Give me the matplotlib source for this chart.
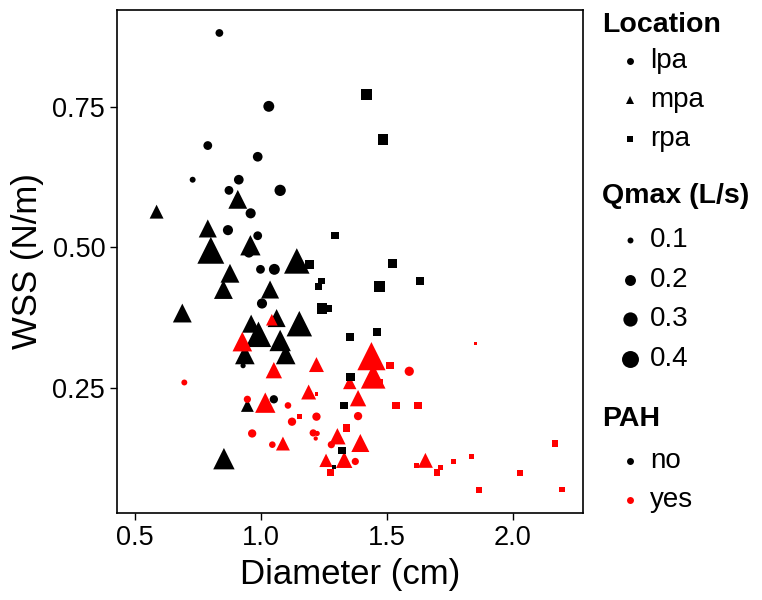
import matplotlib
matplotlib.use("Agg")
import matplotlib.pyplot as plt
from matplotlib.lines import Line2D
import numpy as np

plt.rcParams['font.family'] = ['Liberation Sans', 'DejaVu Sans']

# ---- data: diameter (cm), WSS (N/m), Qmax (L/s) per group ----
# lpa, PAH = no
lpa_no_x = [0.836, 1.032, 0.790, 0.988, 0.730, 0.913, 0.874, 1.077, 0.960, 0.870,
            0.988, 0.953, 0.999, 1.054, 1.005, 0.930, 1.052]
lpa_no_y = [0.883, 0.752, 0.682, 0.662, 0.621, 0.621, 0.602, 0.602, 0.561, 0.531,
            0.521, 0.491, 0.461, 0.461, 0.400, 0.289, 0.229]
lpa_no_q = [0.13, 0.20, 0.15, 0.17, 0.10, 0.17, 0.15, 0.21, 0.18, 0.18,
            0.15, 0.18, 0.15, 0.20, 0.18, 0.09, 0.14]

# mpa, PAH = no
mpa_no_x = [0.587, 0.909, 0.790, 0.959, 0.802, 1.143, 0.878, 0.852, 1.037, 0.689,
            1.063, 0.962, 1.153, 0.991, 1.077, 0.937, 1.099, 0.947, 0.854]
mpa_no_y = [0.564, 0.586, 0.534, 0.504, 0.495, 0.476, 0.454, 0.425, 0.425, 0.383,
            0.374, 0.364, 0.364, 0.345, 0.334, 0.309, 0.309, 0.218, 0.123]
mpa_no_q = [0.19, 0.30, 0.28, 0.34, 0.55, 0.50, 0.30, 0.30, 0.28, 0.30,
            0.28, 0.28, 0.50, 0.50, 0.37, 0.32, 0.32, 0.17, 0.37]

# lpa, PAH = yes
lpa_yes_x = [0.697, 0.947, 1.108, 1.124, 1.221, 0.966, 1.208, 1.224, 1.218, 1.046,
             1.589, 1.386, 1.280, 1.375, 1.273]
lpa_yes_y = [0.259, 0.229, 0.218, 0.189, 0.198, 0.168, 0.169, 0.168, 0.159, 0.148,
             0.279, 0.199, 0.148, 0.118, 0.098]
lpa_yes_q = [0.10, 0.12, 0.11, 0.14, 0.14, 0.14, 0.12, 0.09, 0.08, 0.11,
             0.16, 0.14, 0.12, 0.12, 0.09]

# mpa, PAH = yes
mpa_yes_x = [1.044, 0.927, 1.052, 1.221, 1.018, 1.190, 1.088, 1.259, 1.439, 1.446,
             1.353, 1.386, 1.304, 1.395, 1.331, 1.653]
mpa_yes_y = [0.371, 0.332, 0.281, 0.291, 0.223, 0.242, 0.150, 0.120, 0.306, 0.270,
             0.259, 0.231, 0.163, 0.151, 0.121, 0.120]
mpa_yes_q = [0.15, 0.32, 0.24, 0.21, 0.34, 0.21, 0.19, 0.18, 0.60, 0.47,
             0.18, 0.24, 0.24, 0.28, 0.24, 0.21]

# rpa, PAH = yes
rpa_yes_x = [1.221, 1.155, 1.852, 1.513, 1.472, 1.536, 1.624, 1.340, 1.276, 1.617,
             1.713, 1.699, 1.764, 1.837, 1.866, 2.028, 2.167, 2.194]
rpa_yes_y = [0.239, 0.198, 0.329, 0.289, 0.259, 0.218, 0.218, 0.178, 0.098, 0.110,
             0.108, 0.098, 0.118, 0.127, 0.067, 0.098, 0.150, 0.068]
rpa_yes_q = [0.08, 0.10, 0.075, 0.14, 0.14, 0.14, 0.14, 0.14, 0.125, 0.095,
             0.095, 0.125, 0.095, 0.095, 0.125, 0.11, 0.125, 0.11]

# rpa, PAH = no
rpa_no_x = [1.419, 1.485, 1.294, 1.193, 1.522, 1.631, 1.472, 1.242, 1.229, 1.242,
            1.269, 1.461, 1.353, 1.356, 1.330, 1.323, 1.290]
rpa_no_y = [0.773, 0.693, 0.521, 0.470, 0.471, 0.440, 0.431, 0.440, 0.431, 0.391,
            0.391, 0.349, 0.340, 0.269, 0.218, 0.138, 0.108]
rpa_no_q = [0.24, 0.23, 0.14, 0.19, 0.19, 0.16, 0.23, 0.125, 0.125, 0.21,
            0.125, 0.16, 0.16, 0.16, 0.14, 0.14, 0.082]

location_labels = ['lpa', 'mpa', 'rpa']
qmax_breaks = [0.1, 0.2, 0.3, 0.4]
pah_labels = ['no', 'yes']

# marker area (points^2) from Qmax, equal-area shapes like ggplot
def area(q):
    q = np.asarray(q)
    d_px = np.sqrt(840 * (q - 0.058))
    return (d_px / 1.389) ** 2

shape_factor = {'o': 1.0, '^': 1.75, 's': 0.8}

fig = plt.figure(figsize=(7.62, 6.0), dpi=100)
ax = fig.add_axes([117 / 762, 87 / 600, 466 / 762, 503 / 600])

groups = [
    (lpa_no_x, lpa_no_y, lpa_no_q, 'o', 'black'),
    (mpa_no_x, mpa_no_y, mpa_no_q, '^', 'black'),
    (lpa_yes_x, lpa_yes_y, lpa_yes_q, 'o', 'red'),
    (mpa_yes_x, mpa_yes_y, mpa_yes_q, '^', 'red'),
    (rpa_yes_x, rpa_yes_y, rpa_yes_q, 's', 'red'),
    (rpa_no_x, rpa_no_y, rpa_no_q, 's', 'black'),
]
for gx, gy, gq, m, c in groups:
    ax.scatter(gx, gy, s=area(gq) * shape_factor[m], marker=m, color=c,
               linewidths=0)

ax.set_xlim(0.43, 2.278)
ax.set_ylim(0.026, 0.924)
ax.set_xticks([0.5, 1.0, 1.5, 2.0])
ax.set_xticklabels(['0.5', '1.0', '1.5', '2.0'])
ax.set_yticks([0.25, 0.50, 0.75])
ax.set_yticklabels(['0.25', '0.50', '0.75'])
ax.tick_params(labelsize=19.5, length=5, width=1, color='black', labelcolor='black')
for sp in ax.spines.values():
    sp.set_linewidth(1.2)
    sp.set_color('black')

ax.set_xlabel('Diameter (cm)', fontsize=25, labelpad=5)
ax.set_ylabel('WSS (N/m)', fontsize=25, labelpad=6)

# ---- legends, placed by hand (pixel positions from the top) ----
W, H = 762, 600
title_x, key_x, text_x = 602, 630, 650

def fx(px):
    return px / W

def fy(py):
    return 1 - py / H

def legend_title(txt, py):
    fig.text(fx(title_x), fy(py), txt, fontsize=20.5, fontweight='bold',
             ha='left', va='center')

def legend_item(txt, py, marker, color, ms):
    fig.add_artist(Line2D([fx(key_x)], [fy(py)], transform=fig.transFigure,
                          linestyle='none', marker=marker, color=color,
                          markersize=ms, markeredgewidth=0))
    fig.text(fx(text_x), fy(py), txt, fontsize=20, ha='left', va='center')

legend_title('Location', 25)
for lab, m, ms, py in zip(location_labels, ['o', '^', 's'], [5, 6, 4.6],
                          [61, 100, 139]):
    legend_item(lab, py, m, 'black', ms)

legend_title('Qmax (L/s)', 196)
for q, py in zip(qmax_breaks, [240, 280, 319, 359]):
    legend_item(f'{q:.1f}', py, 'o', 'black', np.sqrt(area(q)))

legend_title('PAH', 419)
for lab, c, py in zip(pah_labels, ['black', 'red'], [461, 500]):
    legend_item(lab, py, 'o', c, 5)

fig.savefig('out.png', dpi=100)
